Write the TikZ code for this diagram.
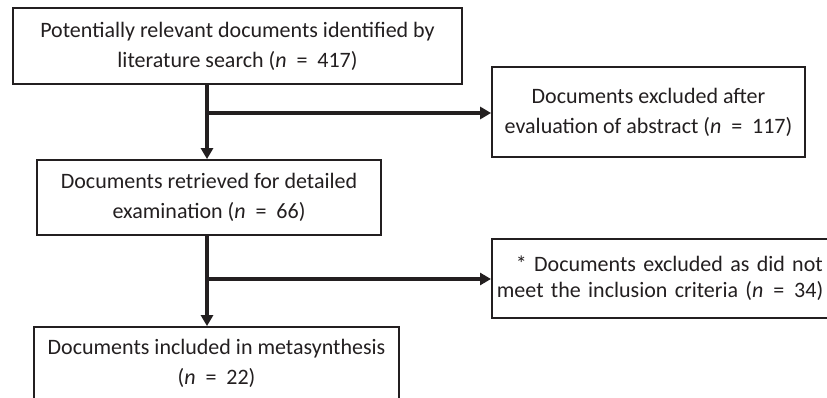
\documentclass[tikz,border=0pt]{standalone}
\usepackage{fontspec}
\setmainfont{Carlito}
\usetikzlibrary{arrows.meta}
\definecolor{ink}{HTML}{231F20}
% sample size, set as (n = ...)
\newcommand{\samplen}[1]{(\textit{n}\hspace{0.45em}=\hspace{0.45em}#1)}
\begin{document}
\begin{tikzpicture}[x=1pt,y=-1pt,
  flowbox/.style={draw=ink, line width=1.8pt, align=center, inner sep=0pt,
    text=ink, font=\fontsize{22}{30}\selectfont},
  flow/.style={draw=ink, line width=3.6pt,
    -{Triangle[length=11pt,width=12pt]}}]
\useasboundingbox (0,0) rectangle (827,398);
\fill[white] (0,0) rectangle (827,398);

\node[flowbox, minimum width=449pt, minimum height=76pt] (search) at (237.5,46)
  {Potentially relevant documents identified by\\literature search \samplen{417}};
\node[flowbox, minimum width=313pt, minimum height=90pt] (abstract) at (648.5,112)
  {Documents excluded after\\evaluation of abstract \samplen{117}};
\node[flowbox, minimum width=344pt, minimum height=75pt] (retrieved) at (209,197.5)
  {Documents retrieved for detailed\\examination \samplen{66}};
\node[flowbox, anchor=west, align=left, text width=420pt, inner xsep=5pt,
  minimum height=79pt, font=\fontsize{22}{26}\selectfont] (criteria) at (491,278.5)
  {\hspace{19pt}* Documents excluded as did not\\meet the inclusion criteria \samplen{34}};
\node[flowbox, minimum width=365pt, minimum height=72pt] (included) at (216.5,363)
  {Documents included in metasynthesis\\\samplen{22}};

\coordinate (split1) at (207,113);
\coordinate (split2) at (207,279);

\draw[flow] (split1 |- search.south) -- (split1 |- retrieved.north);
\draw[flow] (split1) -- (split1 -| abstract.west);
\draw[flow] (split2 |- retrieved.south) -- (split2 |- included.north);
\draw[flow] (split2) -- (split2 -| criteria.west);
\end{tikzpicture}
\end{document}
